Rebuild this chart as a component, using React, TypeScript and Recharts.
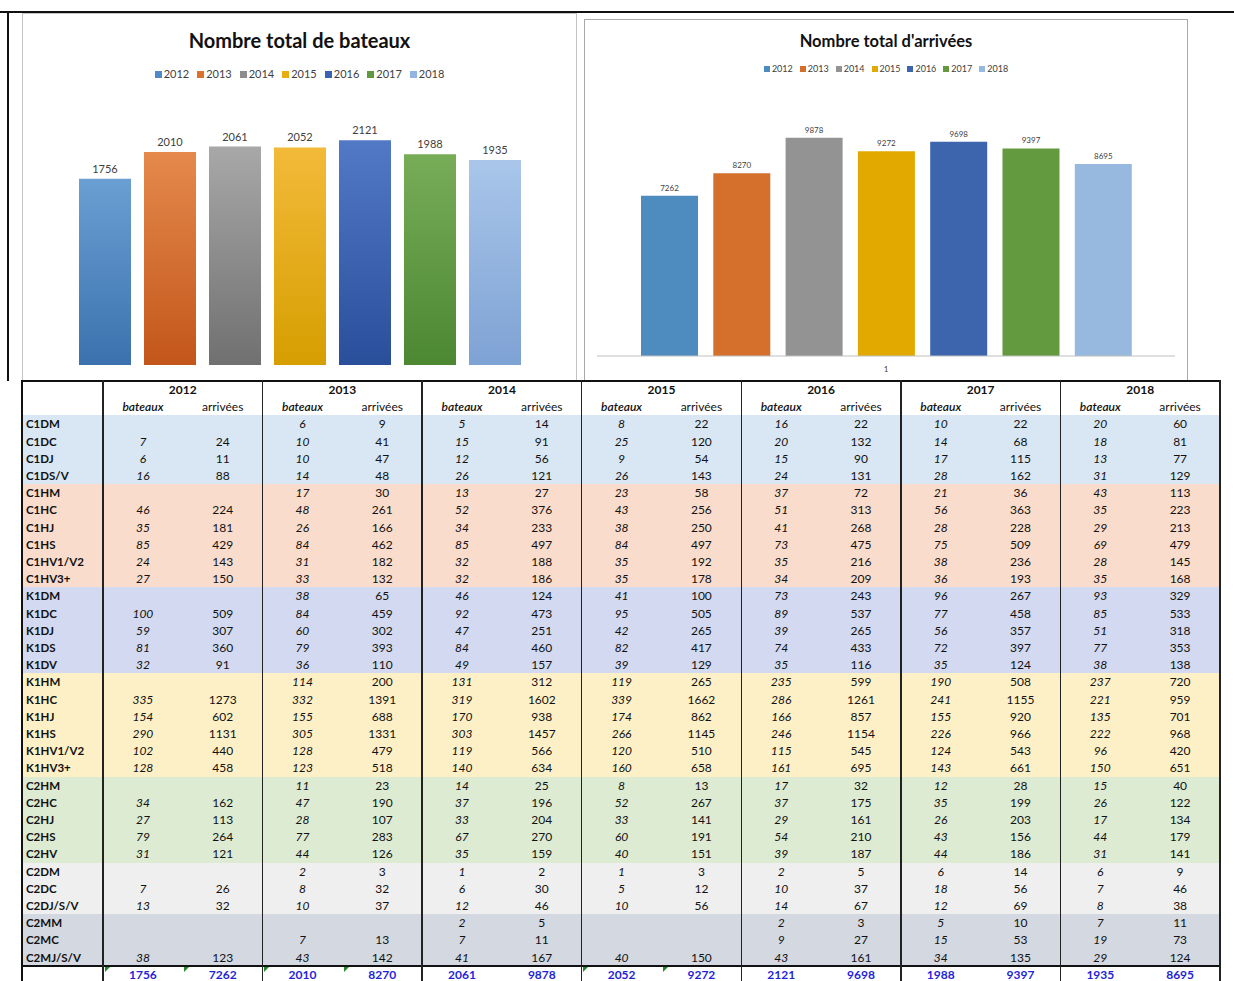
import React from "react";
import { BarChart, Bar, XAxis, YAxis, LabelList } from "recharts";

const FONT = "Lato, 'Open Sans', sans-serif";

const years = ["2012", "2013", "2014", "2015", "2016", "2017", "2018"];
const categoryLabel = "1";
const totalBateaux = [1756, 2010, 2061, 2052, 2121, 1988, 1935];
const totalArrivees = [7262, 8270, 9878, 9272, 9698, 9397, 8695];

// left chart bars use a vertical gradient, right chart bars are flat
const gradTop = ["#6a9fd3", "#e5894c", "#a8a8a8", "#f3ba3a", "#5279c6", "#78ad58", "#a9c6ea"];
const gradBottom = ["#3b72ad", "#c3561a", "#707070", "#d69e00", "#294f9b", "#4c8731", "#7ea2d4"];
const legendLeft = ["#4f8ac6", "#df6f2a", "#8d8d8d", "#e8ad10", "#3a62b4", "#5f9a40", "#92b5e2"];
const flatColors = ["#4e8bbf", "#d56f2c", "#939393", "#e2aa00", "#3d65ad", "#639a3f", "#98b9df"];

const rowLabels = [
  "C1DM", "C1DC", "C1DJ", "C1DS/V",
  "C1HM", "C1HC", "C1HJ", "C1HS", "C1HV1/V2", "C1HV3+",
  "K1DM", "K1DC", "K1DJ", "K1DS", "K1DV",
  "K1HM", "K1HC", "K1HJ", "K1HS", "K1HV1/V2", "K1HV3+",
  "C2HM", "C2HC", "C2HJ", "C2HS", "C2HV",
  "C2DM", "C2DC", "C2DJ/S/V",
  "C2MM", "C2MC", "C2MJ/S/V",
];

const rowGroups = [
  { color: "#d9e7f4", count: 4 },
  { color: "#f9dccb", count: 6 },
  { color: "#d2d9f0", count: 5 },
  { color: "#fef0c6", count: 6 },
  { color: "#ddebd3", count: 5 },
  { color: "#efefef", count: 3 },
  { color: "#d3d8e1", count: 3 },
];

const _ = null;
// one row per label, one value per year 2012..2018
const bateaux: (number | null)[][] = [
  [_, 6, 5, 8, 16, 10, 20],
  [7, 10, 15, 25, 20, 14, 18],
  [6, 10, 12, 9, 15, 17, 13],
  [16, 14, 26, 26, 24, 28, 31],
  [_, 17, 13, 23, 37, 21, 43],
  [46, 48, 52, 43, 51, 56, 35],
  [35, 26, 34, 38, 41, 28, 29],
  [85, 84, 85, 84, 73, 75, 69],
  [24, 31, 32, 35, 35, 38, 28],
  [27, 33, 32, 35, 34, 36, 35],
  [_, 38, 46, 41, 73, 96, 93],
  [100, 84, 92, 95, 89, 77, 85],
  [59, 60, 47, 42, 39, 56, 51],
  [81, 79, 84, 82, 74, 72, 77],
  [32, 36, 49, 39, 35, 35, 38],
  [_, 114, 131, 119, 235, 190, 237],
  [335, 332, 319, 339, 286, 241, 221],
  [154, 155, 170, 174, 166, 155, 135],
  [290, 305, 303, 266, 246, 226, 222],
  [102, 128, 119, 120, 115, 124, 96],
  [128, 123, 140, 160, 161, 143, 150],
  [_, 11, 14, 8, 17, 12, 15],
  [34, 47, 37, 52, 37, 35, 26],
  [27, 28, 33, 33, 29, 26, 17],
  [79, 77, 67, 60, 54, 43, 44],
  [31, 44, 35, 40, 39, 44, 31],
  [_, 2, 1, 1, 2, 6, 6],
  [7, 8, 6, 5, 10, 18, 7],
  [13, 10, 12, 10, 14, 12, 8],
  [_, _, 2, _, 2, 5, 7],
  [_, 7, 7, _, 9, 15, 19],
  [38, 43, 41, 40, 43, 34, 29],
];

const arrivees: (number | null)[][] = [
  [_, 9, 14, 22, 22, 22, 60],
  [24, 41, 91, 120, 132, 68, 81],
  [11, 47, 56, 54, 90, 115, 77],
  [88, 48, 121, 143, 131, 162, 129],
  [_, 30, 27, 58, 72, 36, 113],
  [224, 261, 376, 256, 313, 363, 223],
  [181, 166, 233, 250, 268, 228, 213],
  [429, 462, 497, 497, 475, 509, 479],
  [143, 182, 188, 192, 216, 236, 145],
  [150, 132, 186, 178, 209, 193, 168],
  [_, 65, 124, 100, 243, 267, 329],
  [509, 459, 473, 505, 537, 458, 533],
  [307, 302, 251, 265, 265, 357, 318],
  [360, 393, 460, 417, 433, 397, 353],
  [91, 110, 157, 129, 116, 124, 138],
  [_, 200, 312, 265, 599, 508, 720],
  [1273, 1391, 1602, 1662, 1261, 1155, 959],
  [602, 688, 938, 862, 857, 920, 701],
  [1131, 1331, 1457, 1145, 1154, 966, 968],
  [440, 479, 566, 510, 545, 543, 420],
  [458, 518, 634, 658, 695, 661, 651],
  [_, 23, 25, 13, 32, 28, 40],
  [162, 190, 196, 267, 175, 199, 122],
  [113, 107, 204, 141, 161, 203, 134],
  [264, 283, 270, 191, 210, 156, 179],
  [121, 126, 159, 151, 187, 186, 141],
  [_, 3, 2, 3, 5, 14, 9],
  [26, 32, 30, 12, 37, 56, 46],
  [32, 37, 46, 56, 67, 69, 38],
  [_, _, 5, _, 3, 10, 11],
  [_, 13, 11, _, 27, 53, 73],
  [123, 142, 167, 150, 161, 135, 124],
];

// total cells that carry Excel's little green marker (column index, bateaux=even)
const flaggedTotals = [0, 1, 2, 3, 6, 7];

const bateauxData = [
  { name: categoryLabel, ...Object.fromEntries(years.map((y, i) => [y, totalBateaux[i]])) },
];
const arriveesData = [
  { name: categoryLabel, ...Object.fromEntries(years.map((y, i) => [y, totalArrivees[i]])) },
];

function HtmlLegend(props: {
  colors: string[];
  left: number;
  top: number;
  width: number;
  fontSize: number;
  box: number;
  itemGap: number;
}) {
  const { colors, left, top, width, fontSize, box, itemGap } = props;
  return (
    <div
      style={{
        position: "absolute",
        left,
        top,
        width,
        display: "flex",
        justifyContent: "center",
        fontFamily: FONT,
        fontSize,
        lineHeight: `${fontSize + 3}px`,
        color: "#404040",
      }}
    >
      {years.map((y, i) => (
        <span
          key={y}
          style={{ display: "inline-flex", alignItems: "center", marginRight: i < years.length - 1 ? itemGap : 0 }}
        >
          <span style={{ display: "inline-block", width: box, height: box, background: colors[i], marginRight: 2 }} />
          {y}
        </span>
      ))}
    </div>
  );
}

function BateauxChart() {
  return (
    <div style={{ position: "absolute", left: 22, top: 13, width: 555, height: 367 }}>
      <BarChart
        width={555}
        height={367}
        data={bateauxData}
        margin={{ top: 87, right: 0, bottom: 15, left: 0 }}
        barSize={52}
        barGap={13}
      >
        <defs>
          {years.map((y, i) => (
            <linearGradient key={y} id={`gb${y}`} x1="0" y1="0" x2="0" y2="1">
              <stop offset="0%" stopColor={gradTop[i]} />
              <stop offset="100%" stopColor={gradBottom[i]} />
            </linearGradient>
          ))}
        </defs>
        <XAxis dataKey="name" hide />
        <YAxis hide domain={[0, 2500]} />
        {years.map((y) => (
          <Bar key={y} dataKey={y} name={y} fill={`url(#gb${y})`} isAnimationActive={false}>
            <LabelList dataKey={y} position="top" offset={6} fill="#404040" fontSize={11} fontFamily={FONT} />
          </Bar>
        ))}
      </BarChart>
    </div>
  );
}

function ArriveesChart() {
  return (
    <div style={{ position: "absolute", left: 584, top: 19, width: 604, height: 361 }}>
      <BarChart
        width={604}
        height={361}
        data={arriveesData}
        margin={{ top: 72, right: 13, bottom: 4, left: 13 }}
        barSize={57}
        barGap={15.3}
      >
        <XAxis
          dataKey="name"
          height={20}
          tickLine={false}
          tickMargin={4}
          axisLine={{ stroke: "#bfbfbf" }}
          tick={{ fontSize: 8, fill: "#404040", fontFamily: FONT }}
        />
        <YAxis hide domain={[0, 12000]} />
        {years.map((y, i) => (
          <Bar key={y} dataKey={y} name={y} fill={flatColors[i]} isAnimationActive={false}>
            <LabelList dataKey={y} position="top" offset={5} fill="#404040" fontSize={8} fontFamily={FONT} />
          </Bar>
        ))}
      </BarChart>
    </div>
  );
}

const T_LEFT = 22;
const T_RIGHT = 1220;
const T_TOP = 381;
const LABEL_RIGHT = 103;
const RH = 17.2;
const GW = (T_RIGHT - LABEL_RIGHT) / years.length;

function DataTable() {
  const rowColors: string[] = [];
  rowGroups.forEach((g) => {
    for (let k = 0; k < g.count; k++) rowColors.push(g.color);
  });
  const rowTop = (i: number) => T_TOP + (2 + i) * RH;
  const cellStyle = (x: number, y: number, w: number): React.CSSProperties => ({
    position: "absolute",
    left: x,
    top: y,
    width: w,
    height: RH,
    lineHeight: `${RH}px`,
    textAlign: "center",
    whiteSpace: "nowrap",
  });
  const totalsTop = rowTop(rowLabels.length);

  return (
    <div style={{ position: "absolute", left: 0, top: 0, fontFamily: FONT, fontSize: 12, color: "#111" }}>
      {rowLabels.map((_l, i) => (
        <div
          key={`bg${i}`}
          style={{
            position: "absolute",
            left: T_LEFT,
            top: rowTop(i),
            width: T_RIGHT - T_LEFT,
            height: RH + 0.5,
            background: rowColors[i],
          }}
        />
      ))}

      {/* header */}
      {years.map((y, g) => (
        <React.Fragment key={`h${y}`}>
          <div style={{ ...cellStyle(LABEL_RIGHT + g * GW, T_TOP, GW), fontWeight: 700 }}>{y}</div>
          <div style={{ ...cellStyle(LABEL_RIGHT + g * GW, T_TOP + RH, GW / 2), fontStyle: "italic", fontWeight: 600 }}>
            bateaux
          </div>
          <div style={cellStyle(LABEL_RIGHT + g * GW + GW / 2, T_TOP + RH, GW / 2)}>arrivées</div>
        </React.Fragment>
      ))}

      {/* body */}
      {rowLabels.map((label, i) => (
        <React.Fragment key={label}>
          <div
            style={{
              ...cellStyle(T_LEFT + 4, rowTop(i), LABEL_RIGHT - T_LEFT - 4),
              textAlign: "left",
              fontWeight: 700,
              fontSize: 11.5,
            }}
          >
            {label}
          </div>
          {years.map((y, g) => (
            <React.Fragment key={y}>
              <div style={{ ...cellStyle(LABEL_RIGHT + g * GW, rowTop(i), GW / 2), fontStyle: "italic" }}>
                {bateaux[i][g] ?? ""}
              </div>
              <div style={cellStyle(LABEL_RIGHT + g * GW + GW / 2, rowTop(i), GW / 2)}>{arrivees[i][g] ?? ""}</div>
            </React.Fragment>
          ))}
        </React.Fragment>
      ))}

      {/* totals */}
      {years.map((y, g) => (
        <React.Fragment key={`t${y}`}>
          <div style={{ ...cellStyle(LABEL_RIGHT + g * GW, totalsTop, GW / 2), fontWeight: 700, color: "#1f1fdc" }}>
            {totalBateaux[g]}
          </div>
          <div
            style={{ ...cellStyle(LABEL_RIGHT + g * GW + GW / 2, totalsTop, GW / 2), fontWeight: 700, color: "#1f1fdc" }}
          >
            {totalArrivees[g]}
          </div>
        </React.Fragment>
      ))}
      {flaggedTotals.map((c) => (
        <div
          key={`f${c}`}
          style={{
            position: "absolute",
            left: LABEL_RIGHT + (c * GW) / 2 + 1.5,
            top: totalsTop + 1.5,
            width: 0,
            height: 0,
            borderTop: "5px solid #1e8a2a",
            borderRight: "5px solid transparent",
          }}
        />
      ))}

      {/* grid lines */}
      <div style={{ position: "absolute", left: T_LEFT - 1, top: T_TOP - 1, width: T_RIGHT - T_LEFT + 2, height: 1.5, background: "#111" }} />
      <div style={{ position: "absolute", left: T_LEFT - 1, top: totalsTop - 0.75, width: T_RIGHT - T_LEFT + 2, height: 1.5, background: "#111" }} />
      <div style={{ position: "absolute", left: T_LEFT - 1, top: T_TOP - 1, width: 1.5, height: 981 - T_TOP + 1, background: "#111" }} />
      {Array.from({ length: years.length + 1 }, (_v, g) => (
        <div
          key={`v${g}`}
          style={{
            position: "absolute",
            left: LABEL_RIGHT + g * GW - 0.75,
            top: T_TOP - 1,
            width: 1.5,
            height: 981 - T_TOP + 1,
            background: "#222",
          }}
        />
      ))}
    </div>
  );
}

export default function App() {
  return (
    <div
      style={{
        position: "absolute",
        left: 0,
        top: 0,
        width: 1234,
        height: 981,
        overflow: "hidden",
        background: "#ffffff",
        fontFamily: FONT,
      }}
    >
      {/* outer frame of the screenshot */}
      <div style={{ position: "absolute", left: 0, top: 11, width: 1234, height: 2, background: "#111" }} />
      <div style={{ position: "absolute", left: 7, top: 11, width: 1.5, height: 370, background: "#111" }} />

      {/* left chart box */}
      <div
        style={{
          position: "absolute",
          left: 22,
          top: 13,
          width: 553,
          height: 366,
          border: "1px solid #c4c4c4",
        }}
      />
      <div
        style={{
          position: "absolute",
          left: 22,
          top: 28,
          width: 555,
          textAlign: "center",
          fontSize: 20,
          lineHeight: "24px",
          fontWeight: 700,
          color: "#111",
        }}
      >
        Nombre total de bateaux
      </div>
      <HtmlLegend colors={legendLeft} left={22} top={67} width={555} fontSize={11} box={7} itemGap={8} />
      <BateauxChart />

      {/* right chart box */}
      <div
        style={{
          position: "absolute",
          left: 584,
          top: 19,
          width: 602,
          height: 360,
          border: "1px solid #a8a8a8",
        }}
      />
      <div
        style={{
          position: "absolute",
          left: 584,
          top: 31,
          width: 604,
          textAlign: "center",
          fontSize: 16.5,
          lineHeight: "20px",
          fontWeight: 700,
          color: "#111",
        }}
      >
        Nombre total d'arrivées
      </div>
      <HtmlLegend colors={flatColors} left={584} top={63} width={604} fontSize={9} box={6} itemGap={7} />
      <ArriveesChart />

      <DataTable />
    </div>
  );
}
